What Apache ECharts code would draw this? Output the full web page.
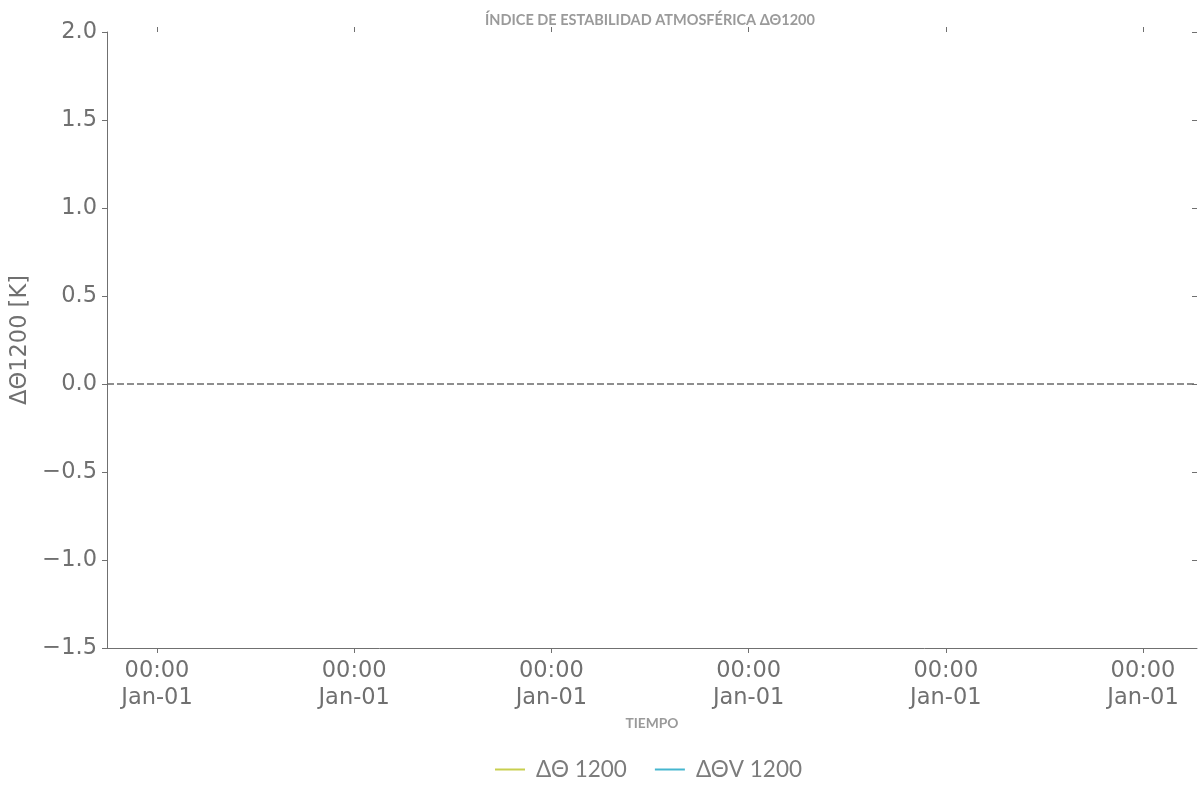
<!DOCTYPE html>
<html><head><meta charset="utf-8">
<script src="https://cdn.jsdelivr.net/npm/echarts@6/dist/echarts.min.js"></script>
<style>html,body{margin:0;padding:0;background:#fff}#c{width:1202px;height:799px}</style>
</head><body><div id="c"></div>
<script>
// Data (the reference shows no data points for either series)
const xTickValues = [0, 1, 2, 3, 4, 5];
const xTickLabels = ['00:00\nJan-01','00:00\nJan-01','00:00\nJan-01','00:00\nJan-01','00:00\nJan-01','00:00\nJan-01'];
const seriesNames = ['ΔΘ 1200', 'ΔΘV 1200'];
const seriesColors = ['#c8cf4f', '#46b6cf'];
const dTheta = [];
const dThetaV = [];
const yMin = -1.5, yMax = 2.0, yStep = 0.5;
const refLineValue = 0;

const axisColor = '#707070';
const textColor = '#707070';
const chart = echarts.init(document.getElementById('c'), null, {renderer:'canvas'});
const fmtY = v => (v < 0 ? '\u2212' + Math.abs(v).toFixed(1) : v.toFixed(1));
chart.setOption({
  animation: false,
  backgroundColor: '#ffffff',
  title: {
    text: 'ÍNDICE DE ESTABILIDAD ATMOSFÉRICA ΔΘ1200',
    left: 645, top: 8, textAlign: 'center',
    textStyle: {fontFamily: 'Lato', fontWeight: 'bold', fontSize: 14.5, color: '#9a9a9a'}
  },
  legend: {
    data: seriesNames, bottom: 13, left: 490, itemWidth: 30, itemHeight: 2, itemGap: 28,
    icon: 'rect',
    textStyle: {fontFamily: 'Lato', fontSize: 22.5, color: '#7c7c7c', padding: [0, 0, 0, 6]}
  },
  grid: {left: 107, right: 5, top: 32, bottom: 151, containLabel: false},
  xAxis: [{
    type: 'value', min: -50/197.2, max: 5 + 54/197.2,
    name: 'TIEMPO', nameLocation: 'middle', nameGap: 61,
    nameTextStyle: {fontFamily: 'Lato', fontWeight: 'bold', fontSize: 13.8, color: '#9a9a9a'},
    axisLine: {show: true, onZero: false, lineStyle: {color: axisColor, width: 1}},
    axisTick: {show: true, length: 5, customValues: xTickValues, lineStyle: {color: axisColor}},
    axisLabel: {customValues: xTickValues, formatter: (v) => xTickLabels[xTickValues.indexOf(Math.round(v))] || '',
      fontFamily: 'DejaVu Sans', fontSize: 22.5, color: textColor, lineHeight: 27, margin: 10},
    splitLine: {show: false}
  }, {
    type: 'value', position: 'top', min: -50/197.2, max: 5 + 54/197.2,
    axisLine: {show: false, onZero: false},
    axisTick: {show: true, length: 5, customValues: xTickValues, lineStyle: {color: axisColor}},
    axisLabel: {show: false}, splitLine: {show: false}
  }],
  yAxis: [{
    type: 'value', min: yMin, max: yMax, interval: yStep,
    name: 'ΔΘ1200 [K]', nameLocation: 'middle', nameGap: 85, nameRotate: 90,
    nameTextStyle: {fontFamily: 'DejaVu Sans', fontSize: 22.5, color: textColor, verticalAlign: 'middle'},
    axisLine: {show: true, onZero: false, lineStyle: {color: axisColor, width: 1}},
    axisTick: {show: true, length: 5, lineStyle: {color: axisColor}},
    axisLabel: {formatter: fmtY, fontFamily: 'DejaVu Sans', fontSize: 22.5, color: textColor, margin: 10},
    splitLine: {show: false}
  }, {
    type: 'value', position: 'right', min: yMin, max: yMax, interval: yStep,
    axisLine: {show: false, onZero: false},
    axisTick: {show: true, inside: true, length: 5, lineStyle: {color: axisColor}},
    axisLabel: {show: false}, splitLine: {show: false}
  }],
  series: [{
    name: seriesNames[0], type: 'line', data: dTheta, color: seriesColors[0], showSymbol: false,
    lineStyle: {width: 2},
    markLine: {silent: true, symbol: 'none', label: {show: false},
      lineStyle: {type: [7, 3], color: '#6a6a6a', width: 1.7},
      data: [{yAxis: refLineValue}]}
  }, {
    name: seriesNames[1], type: 'line', data: dThetaV, color: seriesColors[1], showSymbol: false,
    lineStyle: {width: 2}
  }]
});
</script></body></html>
